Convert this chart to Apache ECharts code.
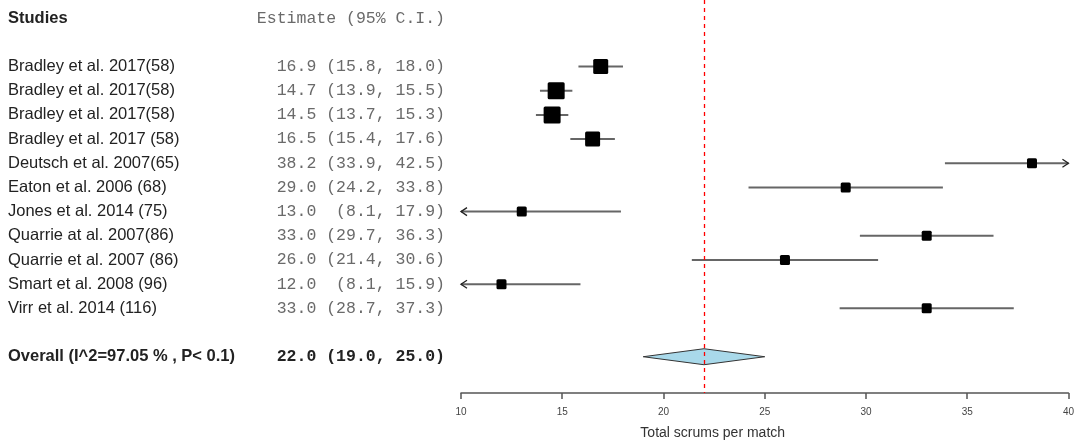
<!DOCTYPE html>
<html>
<head>
<meta charset="utf-8">
<script src="https://cdn.jsdelivr.net/npm/echarts@6/dist/echarts.min.js"></script>
<style>
  html, body { margin: 0; padding: 0; background: #fff; }
  #main { width: 1077px; height: 446px; }
</style>
</head>
<body>
<div id="main"></div>
<script>
  // studies and estimates
  const studies = [
    'Bradley et al. 2017(58)',
    'Bradley et al. 2017(58)',
    'Bradley et al. 2017(58)',
    'Bradley et al. 2017 (58)',
    'Deutsch et al. 2007(65)',
    'Eaton et al. 2006 (68)',
    'Jones et al. 2014 (75)',
    'Quarrie at al. 2007(86)',
    'Quarrie et al. 2007 (86)',
    'Smart et al. 2008 (96)',
    'Virr et al. 2014 (116)',
  ]
  const est = [16.9, 14.7, 14.5, 16.5, 38.2, 29.0, 13.0, 33.0, 26.0, 12.0, 33.0]
  const lower = [15.8, 13.9, 13.7, 15.4, 33.9, 24.2, 8.1, 29.7, 21.4, 8.1, 28.7]
  const upper = [18.0, 15.5, 15.3, 17.6, 42.5, 33.8, 17.9, 36.3, 30.6, 15.9, 37.3]
  // relative weight of each study (box size)
  const weights = [1.5, 1.7, 1.7, 1.5, 1, 1, 1, 1, 1, 1, 1]

  const overallLabel = 'Overall (I^2=97.05 % , P< 0.1)'
  const overall = [22.0, 19.0, 25.0]
  const xTicks = [10, 15, 20, 25, 30, 35, 40]

  const xMin = xTicks[0], xMax = xTicks[xTicks.length - 1]
  const overallRow = studies.length + 2
  const headerRow = -1

  const fmt = (e, l, h) =>
    e.toFixed(1) + ' ' + ('(' + l.toFixed(1)).padStart(5) + ', ' + h.toFixed(1).padStart(4) + ')'

  const textRows = [{ value: [xMin, headerRow], name: 'Studies', ci: 'Estimate (95% C.I.)', kind: 'head' }]
  studies.forEach((s, i) => {
    textRows.push({ value: [xMin, i + 1], name: s, ci: fmt(est[i], lower[i], upper[i]), kind: 'row' })
  })
  textRows.push({ value: [xMin, overallRow], name: overallLabel, ci: fmt(...overall), kind: 'overall' })

  const ciData = est.map((e, i) => [e, i + 1, lower[i], upper[i], weights[i]])

  const chart = echarts.init(document.getElementById('main'))

  chart.setOption({
    animation: false,
    grid: { left: 461, right: 8, top: 0, bottom: 53 },
    xAxis: {
      type: 'value',
      position: 'bottom',
      min: xMin,
      max: xMax,
      interval: 5,
      name: 'Total scrums per match',
      nameLocation: 'middle',
      nameGap: 33,
      nameTextStyle: { fontFamily: 'Liberation Sans', fontSize: 14, color: '#333', padding: [0, 104, 0, 0] },
      axisLine: { onZero: false, lineStyle: { color: '#555', width: 1.5 } },
      axisTick: { length: 6, lineStyle: { color: '#555', width: 1.5 } },
      axisLabel: { fontFamily: 'Liberation Sans', fontSize: 10, color: '#444', margin: 14 },
      splitLine: { show: false },
    },
    yAxis: {
      type: 'value',
      inverse: true,
      min: -1.75,
      max: 14.5,
      show: false,
    },
    series: [
      // CI lines + boxes
      {
        type: 'custom',
        clip: false,
        data: ciData,
        renderItem: (params, api) => {
          const e = api.value(0), row = api.value(1), lo = api.value(2), hi = api.value(3), w = api.value(4)
          const l = Math.max(lo, xMin), h = Math.min(hi, xMax)
          const p0 = api.coord([l, row]), p1 = api.coord([h, row]), pc = api.coord([e, row])
          const children = [{
            type: 'line',
            shape: { x1: p0[0], y1: p0[1], x2: p1[0], y2: p1[1] },
            style: { stroke: '#666', lineWidth: 2 },
          }]
          const arrow = (p, dir) => ({
            type: 'polyline',
            shape: { points: [[p[0] - dir * 6, p[1] - 4], [p[0], p[1]], [p[0] - dir * 6, p[1] + 4]] },
            style: { stroke: '#222', lineWidth: 1.3, fill: null },
          })
          if (lo < xMin) children.push(arrow(p0, -1))
          if (hi > xMax) children.push(arrow(p1, 1))
          const s = 10 * w
          children.push({
            type: 'rect',
            shape: { x: pc[0] - s / 2, y: pc[1] - s / 2, width: s, height: s, r: 1.5 },
            style: { fill: '#000' },
          })
          return { type: 'group', children }
        },
        markLine: {
          silent: true,
          symbol: 'none',
          label: { show: false },
          lineStyle: { color: '#f00', type: [4, 4], width: 1.3 },
          data: [{ xAxis: overall[0] }],
        },
      },
      // overall diamond
      {
        type: 'custom',
        clip: false,
        data: [[overall[0], overallRow, overall[1], overall[2]]],
        renderItem: (params, api) => {
          const row = api.value(1)
          const pl = api.coord([api.value(2), row]), pc = api.coord([api.value(0), row]), pr = api.coord([api.value(3), row])
          return {
            type: 'polygon',
            shape: { points: [[pl[0], pl[1]], [pc[0], pc[1] - 8], [pr[0], pr[1]], [pc[0], pc[1] + 8]] },
            style: { fill: '#a9d9ea', stroke: '#333', lineWidth: 1 },
          }
        },
      },
      // text columns
      {
        type: 'custom',
        clip: false,
        data: textRows,
        renderItem: (params, api) => {
          const d = textRows[params.dataIndex]
          const y = api.coord([xMin, d.value[1]])[1]
          const bold = d.kind !== 'row'
          return {
            type: 'group',
            children: [
              {
                type: 'text',
                x: 8, y,
                style: {
                  text: d.name,
                  fontFamily: 'Liberation Sans',
                  fontSize: d.kind === 'head' ? 16.5 : 16.5,
                  fontWeight: bold ? 'bold' : 'normal',
                  fill: '#222',
                  verticalAlign: 'middle',
                  align: 'left',
                },
              },
              {
                type: 'text',
                x: 445, y,
                style: {
                  text: d.ci,
                  fontFamily: 'Liberation Mono',
                  fontSize: 16.5,
                  fontWeight: d.kind === 'overall' ? 'bold' : 'normal',
                  fill: d.kind === 'overall' ? '#222' : '#6a6a6a',
                  verticalAlign: 'middle',
                  align: 'right',
                },
              },
            ],
          }
        },
      },
    ],
  })
</script>
</body>
</html>
